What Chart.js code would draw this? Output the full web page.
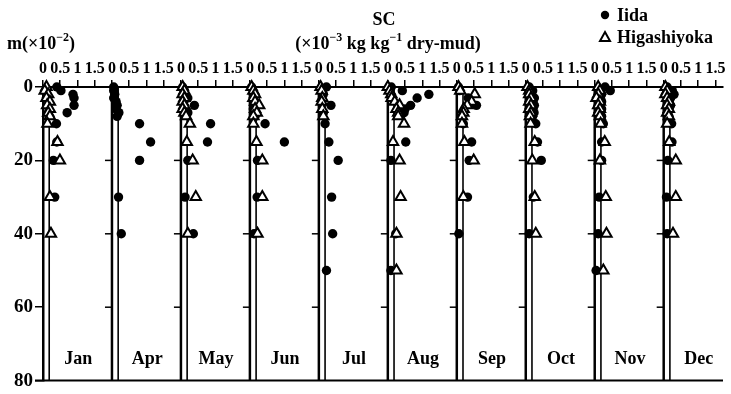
<!DOCTYPE html>
<html><head><meta charset="utf-8">
<script src="https://cdn.jsdelivr.net/npm/chart.js@4.4.0/dist/chart.umd.min.js"></script>
<style>html,body{margin:0;padding:0;background:#fff;}#wrap{width:731px;height:394px;position:relative;}</style>
</head><body><div id="wrap"><canvas id="c" width="731" height="394"></canvas></div>
<script>
// ---- data ----
const months = ['Jan','Apr','May','Jun','Jul','Aug','Sep','Oct','Nov','Dec'];
const depths = [0,1,2,3,4,5,6,7,8,10,15,20,30,40,50];
const xTickLabels = ['0','0.5','1','1.5'];
const yTicks = [0,20,40,60,80];
const refLineValue = 0.18;

// Iida (filled circles), values per depth
const iidaJan = [0.40,0.52,0.87,0.90,null,0.90,null,0.70,null,0.39,0.40,0.30,0.34,null,null];
const iidaApr = [0.05,0.05,0.08,0.05,0.12,0.15,0.12,0.20,0.15,0.80,1.12,0.80,0.19,0.27,null];
const iidaMay = [0.05,0.10,null,0.20,null,0.39,null,0.20,null,0.86,0.77,0.20,0.12,0.36,null];
const iidaJun = [0.05,null,0.10,null,0.12,null,0.10,null,0.15,0.44,1.00,0.22,0.21,0.12,null];
const iidaJul = [0.22,null,0.13,null,null,0.35,null,0.13,null,0.18,0.29,0.56,0.37,0.40,0.22];
const iidaAug = [0.10,0.42,1.19,0.85,null,0.66,0.50,0.47,null,null,0.52,0.09,null,0.23,0.09];
const iidaSep = [0.05,0.08,null,0.33,null,0.57,null,0.19,null,0.19,0.43,0.36,0.31,0.06,null];
const iidaOct = [0.10,0.20,0.15,0.25,0.20,0.25,0.20,0.24,0.20,0.29,0.34,0.45,0.22,0.10,null];
const iidaNov = [0.30,0.45,0.20,0.15,0.20,0.15,0.20,0.15,0.20,0.25,0.20,0.20,0.13,0.10,0.04];
const iidaDec = [0.10,0.25,0.30,0.20,0.15,0.20,0.15,0.12,0.15,0.23,0.24,0.12,0.08,0.10,null];

// Higashiyoka (open triangles), values per depth
const higaJan = [0.10,0.05,0.15,0.10,0.20,0.12,0.20,0.15,0.20,0.13,0.42,0.49,0.20,0.23,null];
const higaApr = [null,null,null,null,null,null,null,null,null,null,null,null,null,null,null];
const higaMay = [0.05,0.10,0.05,0.10,0.05,0.10,0.05,0.10,0.15,0.26,0.17,0.34,0.43,0.20,null];
const higaJun = [0.05,0.10,0.15,0.10,0.15,0.27,0.15,0.20,0.10,0.10,0.19,0.36,0.36,0.22,null];
const higaJul = [0.05,0.08,null,0.10,0.08,null,0.10,null,0.13,null,null,null,null,null,null];
const higaAug = [0.00,0.05,0.10,0.11,0.20,0.34,0.25,0.30,0.30,0.47,0.15,0.34,0.37,0.25,0.25];
const higaSep = [0.05,0.10,0.52,null,0.43,0.30,0.20,0.19,0.15,0.15,0.22,0.49,0.19,null,null];
const higaOct = [0.05,0.10,0.10,0.15,0.10,0.15,0.10,0.15,0.12,0.14,0.26,0.19,0.26,0.29,null];
const higaNov = [0.10,0.15,0.10,0.05,0.15,0.10,0.15,0.10,0.15,0.17,0.29,0.15,0.32,0.34,0.25];
const higaDec = [0.05,0.10,0.05,0.10,0.15,0.10,0.15,0.10,0.15,0.10,0.16,0.35,0.35,0.27,null];

const iidaSeries = [iidaJan,iidaApr,iidaMay,iidaJun,iidaJul,iidaAug,iidaSep,iidaOct,iidaNov,iidaDec];
const higaSeries = [higaJan,higaApr,higaMay,higaJun,higaJul,higaAug,higaSep,higaOct,higaNov,higaDec];

// ---- scale settings ----
const PANEL_SPAN = 2;        // x units per month panel
const X_MAX = 19.72;
const X_STEP = 0.5;
const FONT = "'Liberation Serif','Times New Roman',serif";

function buildPoints(series){
  const pts = [];
  series.forEach((arr,k)=>arr.forEach((v,j)=>{ if(v!==null) pts.push({x:k*PANEL_SPAN+v, y:depths[j]}); }));
  return pts;
}

function drawRich(ctx, segs, x, y, align, size){
  const big = 'bold '+size+'px '+FONT, small = 'bold '+Math.round(size*0.66)+'px '+FONT;
  let w = 0;
  segs.forEach(s=>{ ctx.font = s.sup?small:big; s.w = ctx.measureText(s.t).width; w += s.w; });
  let cx = align==='center' ? x - w/2 : x;
  ctx.textBaseline='alphabetic'; ctx.textAlign='left';
  segs.forEach(s=>{ ctx.font = s.sup?small:big; ctx.fillText(s.t, cx, s.sup? y - size*0.45 : y); cx += s.w; });
}

const panelPlugin = {
  id:'panels',
  beforeDatasetsDraw(chart){
    const {ctx, chartArea:a, scales:{x:xs, y:ys}} = chart;
    ctx.save();
    ctx.strokeStyle='#000';
    for(let k=0;k<months.length;k++){
      const px = xs.getPixelForValue(k*PANEL_SPAN);
      if(k>0){
        ctx.lineWidth=2.5;
        ctx.beginPath(); ctx.moveTo(px,a.top); ctx.lineTo(px,a.bottom); ctx.stroke();
        ctx.lineWidth=1.5;
        yTicks.forEach(v=>{ if(v>0 && v<80){ const py=ys.getPixelForValue(v); ctx.beginPath(); ctx.moveTo(px-7,py); ctx.lineTo(px,py); ctx.stroke(); }});
      }
      const rx = xs.getPixelForValue(k*PANEL_SPAN+refLineValue);
      ctx.lineWidth=1.6;
      ctx.beginPath(); ctx.moveTo(rx,a.top); ctx.lineTo(rx,a.bottom); ctx.stroke();
    }
    const by = ys.getPixelForValue(80);
    ctx.lineWidth=2;
    ctx.beginPath(); ctx.moveTo(a.left-8,by); ctx.lineTo(a.right,by); ctx.stroke();
    ctx.restore();
  },
  afterDraw(chart){
    const {ctx, scales:{x:xs, y:ys}} = chart;
    ctx.save();
    ctx.fillStyle='#000';
    ctx.font='bold 18px '+FONT; ctx.textAlign='center'; ctx.textBaseline='middle';
    months.forEach((m,k)=>ctx.fillText(m, xs.getPixelForValue(k*PANEL_SPAN+1.02), ys.getPixelForValue(74.2)));
    ctx.font='bold 18px '+FONT; ctx.textAlign='center'; ctx.textBaseline='alphabetic';
    ctx.fillText('SC', 384, 25);
    drawRich(ctx, [{t:'(×10'},{t:'−3',sup:true},{t:' kg kg'},{t:'−1',sup:true},{t:' dry-mud)'}], 388, 49, 'center', 18);
    drawRich(ctx, [{t:'m(×10'},{t:'−2',sup:true},{t:')'}], 7, 49, 'left', 18);
    // legend
    ctx.beginPath(); ctx.arc(605,15,4.2,0,Math.PI*2); ctx.fill();
    ctx.strokeStyle='#000'; ctx.lineWidth=2; ctx.fillStyle='#fff';
    ctx.beginPath(); ctx.moveTo(605,32); ctx.lineTo(610,41); ctx.lineTo(600,41); ctx.closePath(); ctx.fill(); ctx.stroke();
    ctx.fillStyle='#000';
    ctx.font='bold 18px '+FONT; ctx.textAlign='left'; ctx.textBaseline='alphabetic';
    ctx.fillText('Iida', 617, 21);
    ctx.fillText('Higashiyoka', 617, 43);
    ctx.restore();
  }
};

new Chart(document.getElementById('c').getContext('2d'), {
  type:'scatter',
  data:{datasets:[
    {label:'Higashiyoka', data:buildPoints(higaSeries), pointStyle:'triangle', pointRadius:6,
     pointBackgroundColor:'#fff', pointBorderColor:'#000', pointBorderWidth:2, order:0, clip:false},
    {label:'Iida', data:buildPoints(iidaSeries), pointStyle:'circle', pointRadius:4.7,
     pointBackgroundColor:'#000', pointBorderColor:'#000', pointBorderWidth:0, order:1, clip:false}
  ]},
  options:{
    responsive:false, animation:false, events:[],
    layout:{padding:{top:0,left:0,right:0,bottom:10}},
    plugins:{legend:{display:false}, tooltip:{enabled:false}, title:{display:false}},
    scales:{
      x:{type:'linear', position:'top', min:0, max:X_MAX,
        afterBuildTicks:s=>{ const t=[]; for(let v=0; v<=X_MAX; v+=X_STEP) t.push({value:v}); s.ticks=t; },
        afterFit:s=>{ s.height=87; },
        ticks:{callback:v=>xTickLabels[Math.round((v%PANEL_SPAN)/X_STEP)], font:{family:FONT,size:16,weight:'bold'},
          color:'#000', autoSkip:false, maxRotation:0, minRotation:0, padding:2},
        grid:{drawOnChartArea:false, drawTicks:true, tickLength:7, color:'#000', lineWidth:1.5},
        border:{display:true, color:'#000', width:2}},
      y:{type:'linear', reverse:true, min:0, max:80,
        afterBuildTicks:s=>{ s.ticks=yTicks.map(v=>({value:v})); },
        afterFit:s=>{ s.width=43; },
        ticks:{font:{family:FONT,size:19,weight:'bold'}, color:'#000', padding:2},
        grid:{drawOnChartArea:false, drawTicks:true, tickLength:8, color:'#000', lineWidth:1.5},
        border:{display:true, color:'#000', width:2.5}}
    }
  },
  plugins:[panelPlugin]
});
</script></body></html>
